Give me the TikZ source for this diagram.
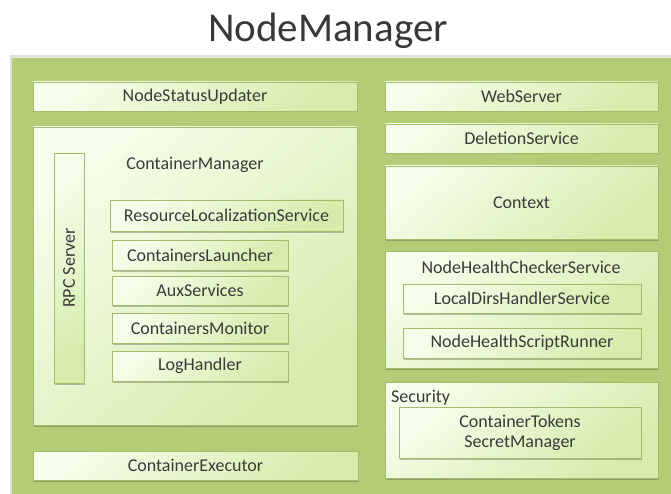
\documentclass[tikz,border=0pt]{standalone}
\usepackage{fontspec}
\setmainfont{Carlito}
\usetikzlibrary{shadows}
\definecolor{outergreen}{RGB}{179,205,118}
\definecolor{boxlight}{RGB}{246,253,234}
\definecolor{boxdark}{RGB}{214,236,172}
\definecolor{boxborder}{RGB}{162,190,108}
\definecolor{txt}{RGB}{58,58,58}
\tikzset{
  gbox/.style={draw=boxborder, line width=0.7pt, top color=boxlight, bottom color=boxdark, shading angle=40,
    drop shadow={shadow xshift=1pt, shadow yshift=-1.5pt, opacity=0.35, fill=black!70},
    inner sep=0pt, text=txt, font=\fontsize{18}{20}\selectfont, align=center},
  lbl/.style={text=txt, font=\fontsize{18}{20}\selectfont, inner sep=0pt, align=center},
}
\newcommand{\gbox}[6]{% name, x1,y1,x2,y2, text
  \node[gbox, minimum width={(#4)-(#2)}, minimum height={(#5)-(#3)}] (#1) at ({((#2)+(#4))/2},{((#3)+(#5))/2}) {#6};}
\begin{document}
\begin{tikzpicture}[x=1pt,y=-1pt]
\useasboundingbox (0,0) rectangle (671,494);
\fill[white] (0,0) rectangle (671,494);
% title
\node[text=black!78, font=\fontsize{41}{44}\selectfont, inner sep=0pt] (title) at (328,31) {NodeManager};
% outer container
\fill[black!12] (10,55) rectangle (671,494);
\fill[outergreen] (12,57) rectangle (671,494);
\draw[white!70!outergreen, line width=0.8pt] (12,57.5) -- (671,57.5);
% left column
\gbox{nsu}{33}{82}{357}{111}{NodeStatusUpdater}
\gbox{cm}{33}{127}{357}{425}{}
\node[lbl] (cmlabel) at (195,165) {ContainerManager};
\gbox{rpc}{54}{153}{84}{383}{}
\node[lbl, rotate=90] (rpclabel) at (rpc.center) {RPC Server};
\gbox{rls}{110}{200}{343}{231}{ResourceLocalizationService}
\gbox{cl}{112}{240}{288}{270}{ContainersLauncher}
\gbox{aux}{112}{276}{288}{305}{AuxServices}
\gbox{mon}{112}{313}{288}{343}{ContainersMonitor}
\gbox{log}{112}{351}{288}{381}{LogHandler}
\gbox{ce}{33}{451}{358}{480}{ContainerExecutor}
% right column
\gbox{web}{385}{82}{658}{111}{WebServer}
\gbox{del}{385}{124}{658}{153}{DeletionService}
\gbox{ctx}{385}{166}{658}{239}{Context}
\gbox{nhc}{385}{251}{658}{368}{}
\node[lbl] (nhclabel) at (521,267) {NodeHealthCheckerService};
\gbox{ldh}{403}{284}{641}{313}{LocalDirsHandlerService}
\gbox{nhs}{403}{328}{641}{358}{NodeHealthScriptRunner}
\gbox{sec}{385}{382}{658}{478}{}
\node[lbl, anchor=west] (seclabel) at (391,398) {Security};
\gbox{cts}{399}{407}{641}{458}{ContainerTokens\\SecretManager}
\end{tikzpicture}
\end{document}
